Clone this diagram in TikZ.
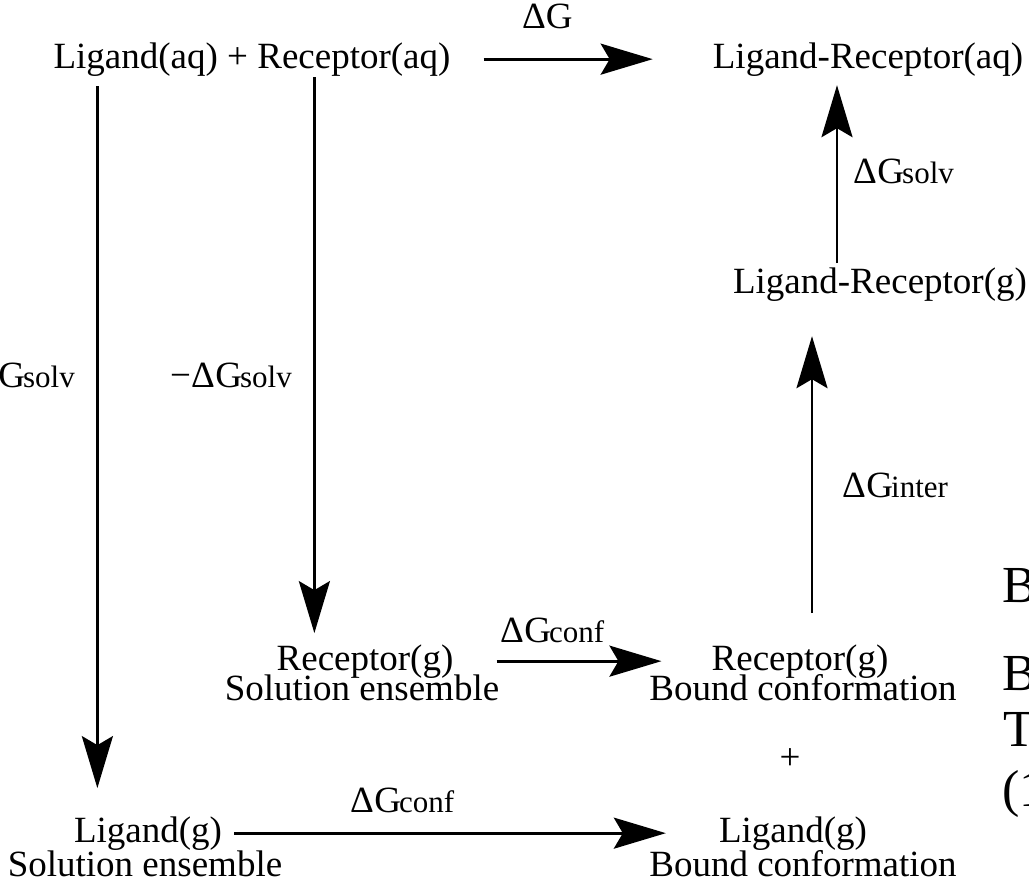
\documentclass[tikz,border=0pt]{standalone}
\usepackage{fontspec}
\setmainfont{Liberation Serif}
\usetikzlibrary{arrows.meta,calc}
\newcommand\fsmain{\fontsize{37}{40}\selectfont}
\newcommand\fsbig{\fontsize{52}{56}\selectfont}
\newcommand\fssub{\fontsize{31}{33}\selectfont}
\newcommand\dGx[1]{Δ\kern0.5pt G\kern-2pt{\fssub #1}}
\tikzset{
  lbl/.style={inner sep=0pt, anchor=base, font=\fsmain},
  lblw/.style={inner sep=0pt, anchor=base west, font=\fsmain},
  lble/.style={inner sep=0pt, anchor=base east, font=\fsmain},
  cut/.style={inner sep=0pt, anchor=base west, font=\fsbig},
  arr/.style={line width=2.8pt, -{Stealth[length=52pt,width=31pt,inset=9pt]}},
}
\begin{document}
\begin{tikzpicture}[x=1pt,y=-1pt]
\useasboundingbox (0,0) rectangle (1029,887);
\fill[white] (0,0) rectangle (1029,887);
\clip (0,0) rectangle (1029,887);

% main nodes
\node[lbl] (lrn) at (252,68) {Ligand(aq) + Receptor(aq)};
\node[lbl] (lrc) at (868,68) {Ligand-Receptor(aq)};
\node[lbl] (lrg) at (880,293) {Ligand-Receptor(g)};
\node[lbl] (rsol) at (365,670) {Receptor(g)};
\node[lbl] (rsol2) at (362,700) {Solution ensemble};
\node[lbl] (rbnd) at (800,670) {Receptor(g)};
\node[lbl] (rbnd2) at (803,700) {Bound conformation};
\node[lbl] (plus) at (790,769) {+};
\node[lbl] (lsol) at (148,842) {Ligand(g)};
\node[lbl] (lsol2) at (145,876) {Solution ensemble};
\node[lbl] (lbnd) at (793,842) {Ligand(g)};
\node[lbl] (lbnd2) at (803,876) {Bound conformation};

% arrow labels
\node[lblw] (ldg) at (522,28) {ΔG};
\node[lblw] (lsolvu) at (853,183) {\dGx{solv}};
\node[lblw] (linter) at (842,497) {\dGx{inter}};
\node[lble] (lnegl) at (75,387) {−\dGx{solv}};
\node[lblw] (lnegr) at (170,387) {−\dGx{solv}};
\node[lblw] (lconfm) at (500,642) {\dGx{conf}};
\node[lblw] (lconfb) at (350,812) {\dGx{conf}};

% cut-off text at right edge
\node[cut] (cb1) at (1002,602) {B};
\node[cut] (cb2) at (1002,690) {B};
\node[cut] (ct) at (1003,746) {T};
\node[cut] (cp) at (1002,806) {(1};

% connectors
\draw[arr] ($(lrn.east)+(33,0)$) -- ($(lrc.west)+(-60,0)$);
\draw[arr] ($(lrg.north)+(-43,-4)$) -- ($(lrg.north |- lrc.south)+(-43,9)$);
\draw[arr] ($(rbnd.north)+(12,-31)$) -- ($(rbnd.north |- lrg.south)+(12,35)$);
\draw[arr] ($(lrn.south west)+(44,10)$) -- ($(lrn.south west |- lsol.north)+(44,-28)$);
\draw[arr] ($(lrn.south west)+(261,1)$) -- ($(lrn.south west |- rsol.north)+(261,-11)$);
\draw[arr] ($(rsol.east)+(43,0)$) -- ($(rbnd.west)+(-50,0)$);
\draw[arr] ($(lsol.east)+(12,0)$) -- ($(lbnd.west)+(-53,0)$);
\end{tikzpicture}
\end{document}
